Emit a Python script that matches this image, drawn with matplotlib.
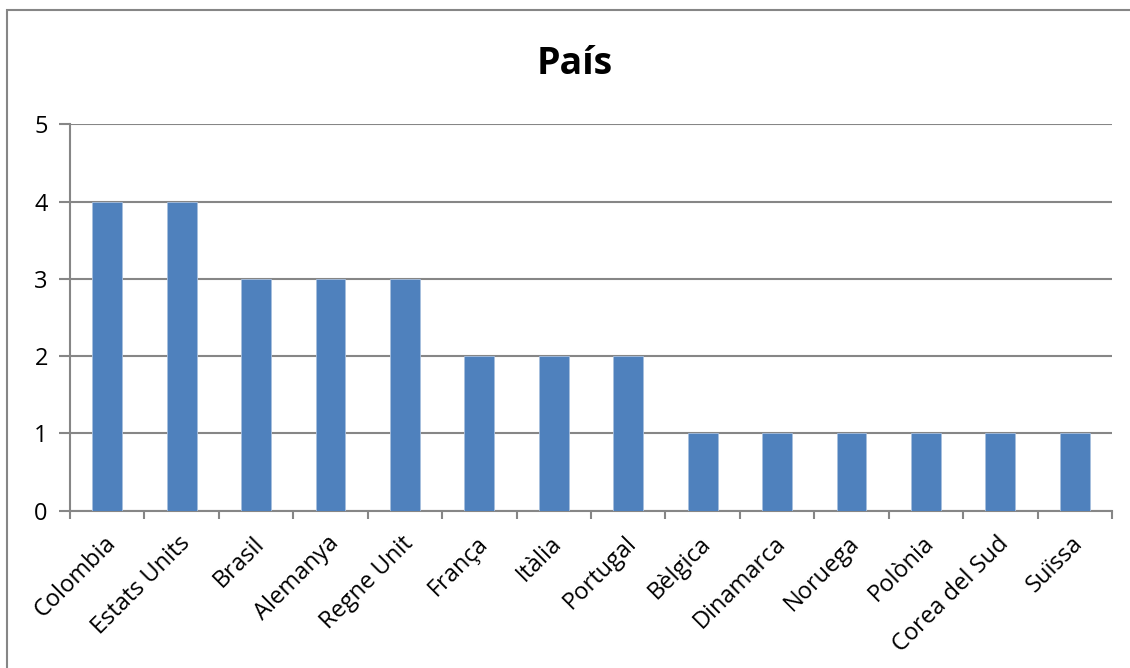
import matplotlib.pyplot as plt
from matplotlib.patches import Rectangle

# Data
countries = ["Colombia", "Estats Units", "Brasil", "Alemanya", "Regne Unit", "França",
             "Itàlia", "Portugal", "Bèlgica", "Dinamarca", "Noruega", "Polònia",
             "Corea del Sud", "Suïssa"]
counts = [4, 4, 3, 3, 3, 2, 2, 2, 1, 1, 1, 1, 1, 1]

plt.rcParams['font.family'] = ['Open Sans', 'DejaVu Sans']

W, H = 1130, 668
fig = plt.figure(figsize=(W / 100, H / 100), dpi=100)

# outer chart border (Excel style)
fig.patches.append(Rectangle((7 / W, -0.05), 1.1, (H - 10) / H + 0.05,
                             transform=fig.transFigure, fill=False,
                             edgecolor='#868686', linewidth=1.5))

ax = fig.add_axes([70 / W, (H - 510.7) / H, (1112 - 70) / W, (510.7 - 124.3) / H])

grid_col = '#868686'
x = range(len(countries))
ax.bar(x, counts, width=0.4, color='#4F81BD', edgecolor='#A7BFDE', linewidth=0.6, zorder=3)

ax.set_xlim(-0.5, len(countries) - 0.5)
ax.set_ylim(0, 5)
ax.set_yticks(range(6))
ax.yaxis.grid(True, color=grid_col, linewidth=1.5, zorder=0)
ax.tick_params(axis='y', length=8, width=1.5, color=grid_col, labelsize=17, pad=8)

# x ticks at category boundaries
ax.set_xticks([i - 0.5 for i in range(len(countries) + 1)])
ax.set_xticklabels([])
ax.tick_params(axis='x', length=6, width=1.5, color=grid_col)
for i, name in enumerate(countries):
    ax.text(i - 0.05, -0.27, name, rotation=45, ha='right', va='top',
            rotation_mode='anchor', fontsize=17)

for side in ['top', 'right']:
    ax.spines[side].set_visible(False)
for side in ['left', 'bottom']:
    ax.spines[side].set_color(grid_col)
    ax.spines[side].set_linewidth(1.5)

fig.text(575 / W, (H - 64) / H, "País", ha='center', va='center', fontsize=27, fontweight='bold')

fig.savefig("out.png", dpi=100)
